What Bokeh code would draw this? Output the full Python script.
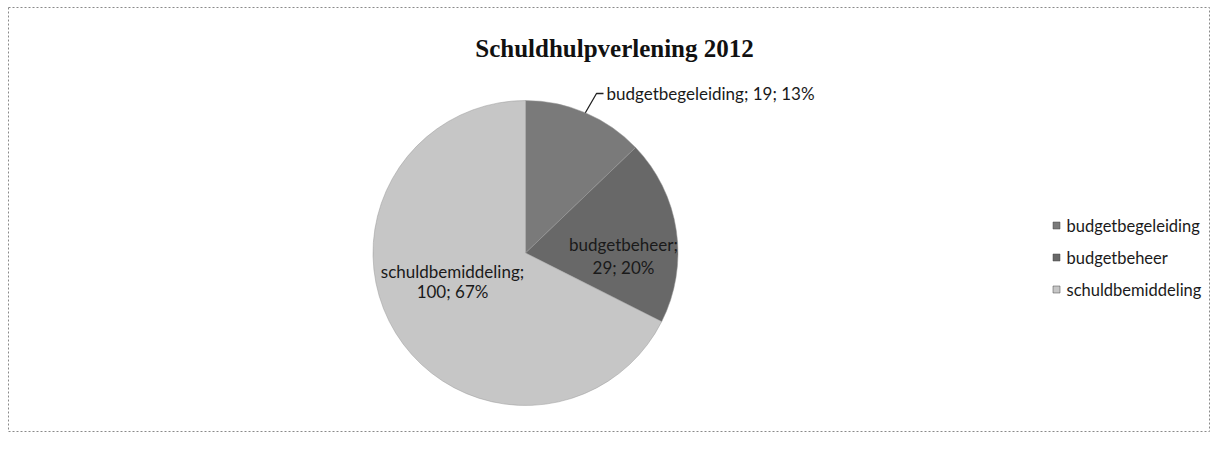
import math
from bokeh.plotting import figure
from bokeh.models import Range1d, ColumnDataSource
from bokeh.core.properties import value
from bokeh.embed import file_html
from bokeh.resources import INLINE

title = "Schuldhulpverlening 2012"
categories = ["budgetbegeleiding", "budgetbeheer", "schuldbemiddeling"]
counts = [19, 29, 100]
percents = ["13%", "20%", "67%"]
colors = ["#7a7a7a", "#686868", "#c6c6c6"]

W, H = 1212, 436
p = figure(width=W, height=H, output_backend="svg", toolbar_location=None,
           x_range=Range1d(0, W), y_range=Range1d(0, H), min_border=0)
p.axis.visible = False
p.grid.visible = False
p.outline_line_color = None
p.background_fill_color = "white"
p.border_fill_color = "white"

def Y(py):
    return H - py

# dotted chart-area border
p.line(x=[8, 1209, 1209, 8, 8], y=[Y(7), Y(7), Y(431), Y(431), Y(7)],
       line_color="#8a8a8a", line_dash="2 2", line_width=1)

cx, cy, r = 525, Y(252.5), 152.5
total = sum(counts)
starts, ends, cum = [], [], 0
for c in counts:
    starts.append(math.pi / 2 - 2 * math.pi * cum / total)
    cum += c
    ends.append(math.pi / 2 - 2 * math.pi * cum / total)

src = ColumnDataSource(dict(start=starts, end=ends, color=colors))
p.wedge(x=cx, y=cy, radius=r, start_angle="start", end_angle="end",
        direction="clock", fill_color="color", line_color="#9a9a9a",
        line_width=0.5, source=src)

# title
p.text(x=[614], y=[Y(48)], text=[title], text_font=value("Liberation Serif"),
       text_font_style="bold", text_font_size="25px", text_align="center",
       text_baseline="alphabetic", text_color="#111111")

lbl_font = value("Lato")
fs = "17px"
# outside label for first slice with leader line
mid0 = (starts[0] + ends[0]) / 2
ex, ey = cx + r * math.cos(mid0), cy + r * math.sin(mid0)
p.line(x=[ex, 596, 603], y=[ey, Y(93), Y(93)], line_color="#222222", line_width=1.3)
p.text(x=[606], y=[Y(93)], text=[f"{categories[0]}; {counts[0]}; {percents[0]}"],
       text_font=lbl_font, text_font_size=fs, text_baseline="middle", text_color="#1a1a1a")

# inside labels
p.text(x=[623, 623], y=[Y(244), Y(267)],
       text=[f"{categories[1]};", f"{counts[1]}; {percents[1]}"],
       text_font=lbl_font, text_font_size=fs, text_align="center",
       text_baseline="middle", text_color="#1a1a1a")
p.text(x=[452, 452], y=[Y(271), Y(291)],
       text=[f"{categories[2]};", f"{counts[2]}; {percents[2]}"],
       text_font=lbl_font, text_font_size=fs, text_align="center",
       text_baseline="middle", text_color="#1a1a1a")

# legend
ly = [Y(225), Y(257), Y(289)]
p.scatter(x=[1056] * 3, y=ly, marker="square", size=7, fill_color=colors,
          line_color="#444444", line_width=0.5)
p.text(x=[1066] * 3, y=ly, text=categories, text_font=lbl_font, text_font_size="16.5px",
       text_baseline="middle", text_color="#1a1a1a")

open("out.html", "w").write(file_html(p, INLINE))
